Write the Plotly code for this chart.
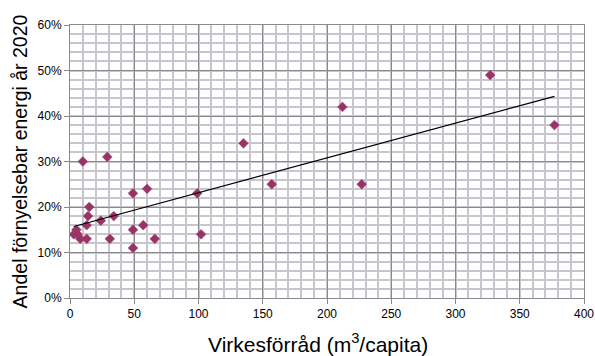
import numpy as np
import plotly.graph_objects as go

# Forest stock per capita (m3) vs. share of renewable energy target 2020 (%)
virkesforrad = [3, 5, 6, 8, 13, 13, 14, 15, 10, 24, 29, 31, 34,
                49, 49, 49, 57, 60, 66, 99, 102, 135, 157, 212, 227, 327, 377]
andel_fornybar = [14, 15, 14, 13, 13, 16, 18, 20, 30, 17, 31, 13, 18,
                  23, 15, 11, 16, 24, 13, 23, 14, 34, 25, 42, 25, 49, 38]

x_ticks = [0, 50, 100, 150, 200, 250, 300, 350, 400]
y_ticks = [0, 10, 20, 30, 40, 50, 60]
y_tick_labels = ["0%", "10%", "20%", "30%", "40%", "50%", "60%"]

# Linear least-squares trendline over the observed x range
slope, intercept = np.polyfit(virkesforrad, andel_fornybar, 1)
trend_x = [min(virkesforrad), max(virkesforrad)]
trend_y = [slope * v + intercept for v in trend_x]

MARKER = "#993366"
MAJOR = "#8a8a8e"
MINOR = "#c6c6cc"
FONT = "Liberation Sans, Arial, sans-serif"

fig = go.Figure()
fig.add_trace(go.Scatter(
    x=virkesforrad, y=andel_fornybar, mode="markers",
    marker=dict(symbol="diamond", size=7.5, color=MARKER,
                line=dict(color="#a0487a", width=0.6)),
    showlegend=False,
))
fig.add_trace(go.Scatter(
    x=trend_x, y=trend_y, mode="lines",
    line=dict(color="black", width=1.2), showlegend=False,
))

axis_common = dict(
    showline=True, linecolor=MAJOR, linewidth=1, mirror=True,
    ticks="outside", ticklen=5, tickcolor=MAJOR,
    showgrid=True, gridcolor=MAJOR, gridwidth=1,
    zeroline=False, automargin=False,
    tickfont=dict(family=FONT, size=12, color="black"),
)

fig.update_layout(
    width=595, height=356,
    margin=dict(l=70, r=11, t=25, b=58),
    paper_bgcolor="white", plot_bgcolor="white",
    font=dict(family=FONT, color="black"),
    xaxis=dict(
        range=[0, 400], tickvals=x_ticks,
        minor=dict(dtick=10, tick0=0, showgrid=True, gridcolor=MINOR,
                   gridwidth=1.6, ticks=""),
        **axis_common,
    ),
    yaxis=dict(
        range=[0, 60], tickvals=y_ticks, ticktext=y_tick_labels,
        minor=dict(dtick=2, tick0=0, showgrid=True, gridcolor=MINOR,
                   gridwidth=1.6, ticks=""),
        title=dict(text="Andel förnyelsebar energi år 2020",
                   font=dict(family=FONT, size=19.5), standoff=4),
        **axis_common,
    ),
)

# X-axis title, centred slightly left of the plot centre
fig.add_annotation(
    text="Virkesförråd (m<sup>3</sup>/capita)",
    xref="paper", yref="paper", x=0.4825, y=-0.164,
    xanchor="center", yanchor="middle", showarrow=False,
    font=dict(family=FONT, size=21, color="black"),
)

fig.write_html("out.html")
